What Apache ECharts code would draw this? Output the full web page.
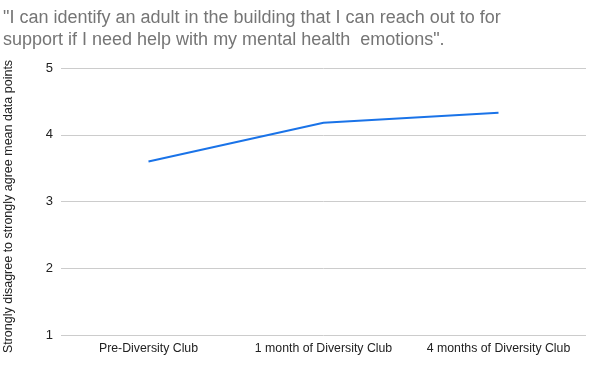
<!DOCTYPE html>
<html><head><meta charset="utf-8">
<script src="https://cdn.jsdelivr.net/npm/echarts@6/dist/echarts.min.js"></script>
<style>html,body{margin:0;padding:0;background:#fff}#c{width:600px;height:369px}</style>
</head><body><div id="c"></div>
<script>
const categories = ["Pre-Diversity Club", "1 month of Diversity Club", "4 months of Diversity Club"];
const meanValues = [3.6, 4.18, 4.33];
const yTicks = [1, 2, 3, 4, 5];
const titleText = "\"I can identify an adult in the building that I can reach out to for\nsupport if I need help with my mental health  emotions\".";
const yAxisName = "Strongly disagree to strongly agree mean data points";

const chart = echarts.init(document.getElementById('c'), null, {renderer: 'canvas'});
chart.setOption({
  animation: false,
  title: {
    text: titleText, left: 3, top: 7, padding: 0,
    textStyle: {fontFamily: 'Liberation Sans', fontSize: 18, fontWeight: 'normal', color: '#757575', lineHeight: 22}
  },
  grid: {left: 61, right: 14, top: 68, bottom: 34, containLabel: false, outerBoundsMode: 'none'},
  xAxis: {
    type: 'category', data: categories, boundaryGap: true,
    axisLine: {show: false}, axisTick: {show: false},
    axisLabel: {interval: 0, fontFamily: 'Liberation Sans', fontSize: 12.3, color: '#222', margin: 8}
  },
  yAxis: {
    type: 'value', min: yTicks[0], max: yTicks[yTicks.length - 1], interval: 1,
    name: yAxisName, nameLocation: 'middle', nameGap: 46, nameRotate: 90,
    nameTextStyle: {fontFamily: 'Liberation Sans', fontSize: 12.5, color: '#222', padding: [0, 10, 0, 0]},
    axisLine: {show: false}, axisTick: {show: false},
    axisLabel: {fontFamily: 'Liberation Sans', fontSize: 13, color: '#222', margin: 8},
    splitLine: {lineStyle: {color: '#cccccc', width: 1}}
  },
  series: [{
    type: 'line', data: meanValues, showSymbol: false,
    lineStyle: {color: '#1a73e8', width: 2}, itemStyle: {color: '#1a73e8'}
  }]
});
</script></body></html>
